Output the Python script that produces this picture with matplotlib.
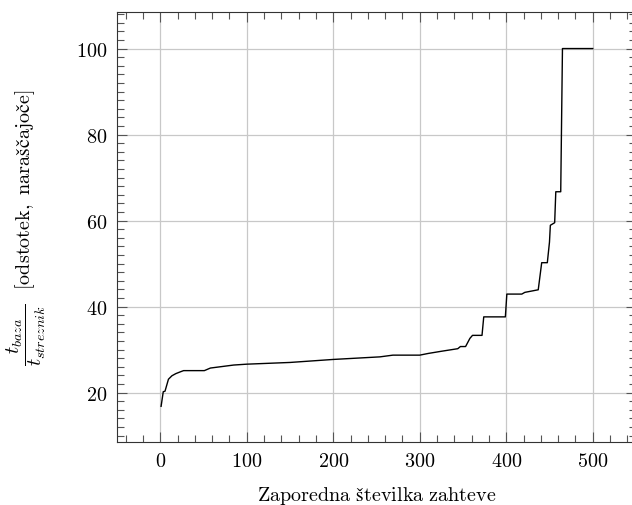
import matplotlib.pyplot as plt
from matplotlib.ticker import MultipleLocator

plt.rcParams['font.family'] = ['cmr10', 'DejaVu Serif']
plt.rcParams['mathtext.fontset'] = 'cm'
plt.rcParams['axes.formatter.use_mathtext'] = True
plt.rcParams['font.size'] = 14.5

# zahteve, urejene naraščajoče po razmerju časov
zahteva = [1, 3.5, 5.5, 9.5, 13.5, 18, 23, 27, 51, 58, 85, 100, 150, 200,
           254, 269, 300, 310, 325, 344, 347, 353, 358, 361, 372, 374, 399,
           400.7, 418, 421.5, 437, 441, 447.5, 450, 451, 456, 457.3, 463,
           465, 500]
odstotek = [16.8, 20.2, 20.3, 23.1, 23.9, 24.4, 24.8, 25.1, 25.1, 25.7,
            26.4, 26.6, 27.0, 27.7, 28.3, 28.7, 28.7, 29.1, 29.6, 30.2,
            30.7, 30.7, 32.6, 33.3, 33.3, 37.6, 37.6, 42.9, 42.9, 43.3,
            43.9, 50.2, 50.2, 55.0, 58.9, 59.5, 66.7, 66.7, 100, 100]

fig = plt.figure(figsize=(6.32, 5.06), dpi=100)
ax = fig.add_axes([0.1851, 0.1245, 0.8212, 0.8498])
ax.plot(zahteva, odstotek, color='black', linewidth=1.0)

ax.set_xlim(-50, 550)
ax.set_ylim(8.5, 108.5)
ax.xaxis.set_major_locator(MultipleLocator(100))
ax.xaxis.set_minor_locator(MultipleLocator(20))
ax.yaxis.set_major_locator(MultipleLocator(20))
ax.yaxis.set_minor_locator(MultipleLocator(2))
ax.tick_params(which='both', direction='in', top=True, right=True,
               color='#555555', width=0.8)
ax.tick_params(which='major', length=7.5, pad=7)
ax.tick_params(which='minor', length=5)
ax.grid(True, which='major', color='#c8c8c8', linewidth=0.9)
ax.set_axisbelow(True)
for s in ax.spines.values():
    s.set_color('#333333')
    s.set_linewidth(0.8)

# šumniki v matematičnem načinu (cmr10 teh znakov nima)
ax.set_xlabel(r'$\mathrm{Zaporedna\ številka\ zahteve}$', labelpad=10)
ax.set_ylabel(r'$\dfrac{t_{baza}}{t_{streznik}}$'
              r'  $\mathrm{[odstotek,\ naraščajoče]}$',
              labelpad=20)

fig.savefig('out.png', dpi=100)
